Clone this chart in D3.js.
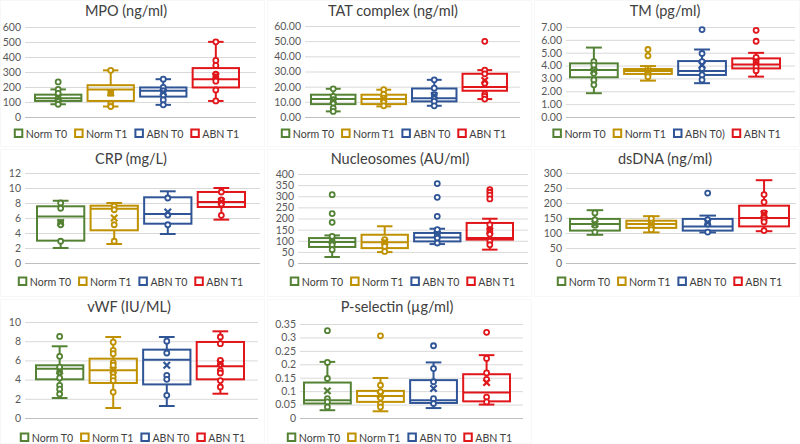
<!DOCTYPE html>
<html><head><meta charset="utf-8">
<script src="https://cdn.jsdelivr.net/npm/d3@7"></script>
<style>body{margin:0;background:#fff}svg{display:block}</style>
</head><body>
<svg id="c" width="800" height="444"></svg>
<script>
// ---------- DATA ----------
const groups = ["Norm T0","Norm T1","ABN T0","ABN T1"];
const groupsTM = ["Norm T0","Norm T1","ABN T0)","ABN T1"];
const colors = ["#548235","#bf9000","#2f5597","#e0161b"];

// box = [min, q1, median, q3, max]
const mpoBox = [[85,107,125,149,184],[70,107,184,212,311],[81,136,175,197,252],[107,197,252,326,501]];
const mpoMean = [130,160,165,272];
const mpoPts = [[234,184,158,125,103,85],[311,158,88,70],[252,197,175,147,114,81],[501,377,344,285,267,239,180,107]];
const mpoTicks = [0,100,200,300,400,500,600];

const tatBox = [[3.7,8.5,11.8,14.7,18.6],[7.0,8.5,11.8,14.7,18.0],[7.4,10.3,12.3,18.8,24.5],[11.8,17.3,19.7,28.5,30.9]];
const tatMean = [11.0,12.0,14.2,24.1];
const tatPts = [[18.6,13.6,11.4,9.2,5.9,3.7],[18.0,15.0,12.5,10.3,7.4],[24.5,19.0,14.7,12.3,10.3,7.4],[49.9,30.9,28.5,22.3,15.1,13.6,11.8]];
const tatTicks = [0,10,20,30,40,50,60];

const tmBox = [[1.85,3.09,3.65,4.17,5.40],[2.83,3.35,3.58,3.73,3.96],[2.63,3.27,3.58,4.35,5.25],[3.14,3.78,4.09,4.56,4.99]];
const tmMean = [3.6,3.6,4.04,4.3];
const tmPts = [[4.3,4.04,3.65,3.4,2.88,2.5],[5.25,4.76,3.5,3.27,3.14],[6.80,4.94,4.3,3.78,3.27,2.88],[6.74,5.89,4.63,4.3,3.91,3.6]];
const tmTicks = [0,1,2,3,4,5,6,7];

const crpBox = [[2.0,2.98,6.2,7.56,8.3],[2.53,4.36,7.24,7.64,8.0],[3.87,5.24,6.53,8.76,9.56],[5.78,7.47,8.13,9.47,10.0]];
const crpMean = [5.4,6.0,6.8,8.2];
const crpPts = [[8.0,7.3,5.4,5.1,2.9],[7.6,7.1,5.1,2.9],[8.67,6.4,5.1],[9.47,8.4,7.87,6.36]];
const crpTicks = [0,2,4,6,8,10,12];

const nucBox = [[27,72,94,112,124],[49,67,93,127,165],[85,97,115,135,154],[60,105,112,180,199]];
const nucMean = [100,95,130,145];
const nucPts = [[307,222,183,120,97,82,60],[105,90,75,52],[357,295,210,150,127,112,90],[330,318,305,288,172,145,130,97,82]];
const nucTicks = [0,50,100,150,200,250,300,350,400];

const dsBox = [[94,108,130,147,176],[102,117,130,141,156],[102,108,122,147,158],[106,122,150,191,276]];
const dsMean = [130,130,135,164];
const dsPts = [[167,144,126,103],[148,133,122,111],[233,144,130,103],[228,203,167,144,137,108]];
const dsTicks = [0,50,100,150,200,250,300];

const vwfBox = [[2.08,4.03,5.14,5.49,7.47],[1.04,3.65,4.97,6.18,8.44],[1.25,3.5,6.08,7.12,8.44],[2.53,4.03,5.38,7.92,9.03]];
const vwfMean = [4.9,4.97,5.49,5.7];
const vwfPts = [[8.5,6.42,5.3,4.8,4.17,3.4,3.0,2.5],[7.9,7.05,6.7,5.76,5.5,4.72,4.27,3.9,2.7],[8.0,6.77,4.44,4.03,2.36],[8.44,7.74,6.0,5.59,4.97,4.69,3.9,3.23]];
const vwfTicks = [0,2,4,6,8,10];

const pselBox = [[0.029,0.054,0.066,0.132,0.209],[0.025,0.060,0.082,0.101,0.149],[0.037,0.056,0.066,0.141,0.207],[0.05,0.062,0.095,0.163,0.234]];
const pselMean = [0.101,0.085,0.110,0.132];
const pselPts = [[0.325,0.207,0.147,0.072,0.060,0.041],[0.306,0.122,0.097,0.075,0.054,0.041],[0.269,0.184,0.135,0.072,0.054],[0.319,0.222,0.168,0.144,0.078,0.060]];
const pselTicks = [0,0.05,0.1,0.15,0.2,0.25,0.3,0.35];

const titles = ["MPO (ng/ml)","TAT complex (ng/ml)","TM (pg/ml)","CRP (mg/L)","Nucleosomes (AU/ml)","dsDNA (ng/ml)","vWF (IU/ML)","P-selectin (µg/ml)"];

// ---------- LAYOUT ----------
const f0 = d3.format("d"), f2 = d3.format(".2f"), fg = t => String(t);
const panels = [
  {title:titles[0], box:mpoBox, mean:mpoMean, pts:mpoPts, ticks:mpoTicks, fmt:f0, cats:groups, tx:126, ty:10, gL:25, gR:256, bL:34, bR:240, top:27, bot:117, lx:127, ly:133},
  {title:titles[1], box:tatBox, mean:tatMean, pts:tatPts, ticks:tatTicks, fmt:f2, cats:groups, tx:393, ty:10, gL:305, gR:520, bL:310, bR:508, top:26, bot:117, lx:394, ly:133},
  {title:titles[2], box:tmBox, mean:tmMean, pts:tmPts, ticks:tmTicks, fmt:f2, cats:groupsTM, tx:665, ty:10, gL:566, gR:795, bL:569, bR:781, top:27, bot:117, lx:667, ly:133},
  {title:titles[3], box:crpBox, mean:crpMean, pts:crpPts, ticks:crpTicks, fmt:f0, cats:groups, tx:131, ty:158, gL:25, gR:260, bL:36, bR:246, top:173, bot:263, lx:131, ly:281},
  {title:titles[4], box:nucBox, mean:nucMean, pts:nucPts, ticks:nucTicks, fmt:f0, cats:groups, tx:400, ty:158, gL:298, gR:528, bL:308, bR:514, top:174, bot:263, lx:403, ly:281},
  {title:titles[5], box:dsBox, mean:dsMean, pts:dsPts, ticks:dsTicks, fmt:f0, cats:groups, tx:665, ty:158, gL:566, gR:796, bL:569, bR:790, top:173, bot:263, lx:670, ly:281},
  {title:titles[6], box:vwfBox, mean:vwfMean, pts:vwfPts, ticks:vwfTicks, fmt:f0, cats:groups, tx:129, ty:306, gL:25, gR:258, bL:35, bR:245, top:322, bot:418, lx:133, ly:437},
  {title:titles[7], box:pselBox, mean:pselMean, pts:pselPts, ticks:pselTicks, fmt:fg, cats:groups, tx:397, ty:306, gL:300, gR:523, bL:303, bR:511, top:324, bot:418, lx:400, ly:437}
];

const svg = d3.select("#c");
const FONT = "Lato, 'Open Sans', sans-serif";

// very faint chart-area frames
const frames = [[0,0,265,147],[267,0,265,147],[534,0,266,147],[0,149,265,148],[267,149,265,148],[534,149,266,148],[0,299,265,145],[267,299,265,145]];
svg.selectAll("rect.frame").data(frames).join("rect").attr("class","frame")
  .attr("x",d=>d[0]+0.5).attr("y",d=>d[1]+0.5).attr("width",d=>d[2]-1).attr("height",d=>d[3]-1)
  .attr("fill","none").attr("stroke","#f7f7f7");

panels.forEach(p => {
  const g = svg.append("g");
  const tMax = p.ticks[p.ticks.length-1];
  const y = d3.scaleLinear().domain([0,tMax]).range([p.bot,p.top]);
  const x = d3.scaleBand().domain(p.cats).range([p.bL,p.bR]).paddingInner(0.08);

  // title
  g.append("text").attr("x",p.tx).attr("y",p.ty).attr("text-anchor","middle").attr("dominant-baseline","central")
    .attr("font-family",FONT).attr("font-size",14.5).attr("fill","#404040").text(p.title);

  // y axis (gridlines + labels)
  const ax = g.append("g").attr("transform",`translate(${p.gL},0)`)
    .call(d3.axisLeft(y).tickValues(p.ticks).tickFormat(p.fmt).tickSize(-(p.gR-p.gL)).tickPadding(4));
  ax.select(".domain").remove();
  ax.selectAll(".tick line").attr("stroke",d=>d===0?"#bfbfbf":"#d9d9d9").attr("stroke-width",1);
  ax.selectAll(".tick text").attr("font-family",FONT).attr("font-size",10.5).attr("fill","#595959");

  // boxes
  p.cats.forEach((c,i) => {
    const col = colors[i];
    const [mn,q1,md,q3,mx] = p.box[i];
    const bx = x(c), bw = x.bandwidth(), cx = bx + bw/2, cap = bw*0.16;
    const bg = g.append("g").attr("stroke",col).attr("stroke-width",2).attr("fill","none");
    bg.append("line").attr("x1",cx).attr("x2",cx).attr("y1",y(q3)).attr("y2",y(mx));
    bg.append("line").attr("x1",cx).attr("x2",cx).attr("y1",y(q1)).attr("y2",y(mn));
    bg.append("line").attr("x1",cx-cap).attr("x2",cx+cap).attr("y1",y(mx)).attr("y2",y(mx));
    bg.append("line").attr("x1",cx-cap).attr("x2",cx+cap).attr("y1",y(mn)).attr("y2",y(mn));
    bg.append("rect").attr("x",bx+1).attr("width",bw-2).attr("y",y(q3)).attr("height",y(q1)-y(q3));
    bg.append("line").attr("x1",bx+1).attr("x2",bx+bw-1).attr("y1",y(md)).attr("y2",y(md));
    // points
    bg.selectAll("circle").data(p.pts[i]).join("circle")
      .attr("cx",cx).attr("cy",d=>y(d)).attr("r",2.5).attr("fill","#fff").attr("stroke-width",1.8);
    // mean X
    const my = y(p.mean[i]), s = 3.2;
    bg.append("path").attr("d",`M${cx-s},${my-s}L${cx+s},${my+s}M${cx-s},${my+s}L${cx+s},${my-s}`).attr("stroke-width",2.2);
  });

  // legend
  const lg = g.append("g");
  const items = lg.selectAll("g").data(p.cats).join("g");
  items.append("rect").attr("x",0).attr("y",-3.5).attr("width",7.5).attr("height",7.5)
    .attr("fill","#fff").attr("stroke",(d,i)=>colors[i]).attr("stroke-width",2);
  items.append("text").attr("x",11).attr("y",0.5).attr("dominant-baseline","central")
    .attr("font-family",FONT).attr("font-size",10.6).attr("fill","#404040").text(d=>d);
  let off = 0; const offs = [];
  items.each(function(){ offs.push(off); off += 11 + this.querySelector("text").getComputedTextLength() + 8; });
  const total = off - 8;
  items.attr("transform",(d,i)=>`translate(${p.lx - total/2 + offs[i]},${p.ly})`);
});
</script>
</body></html>
